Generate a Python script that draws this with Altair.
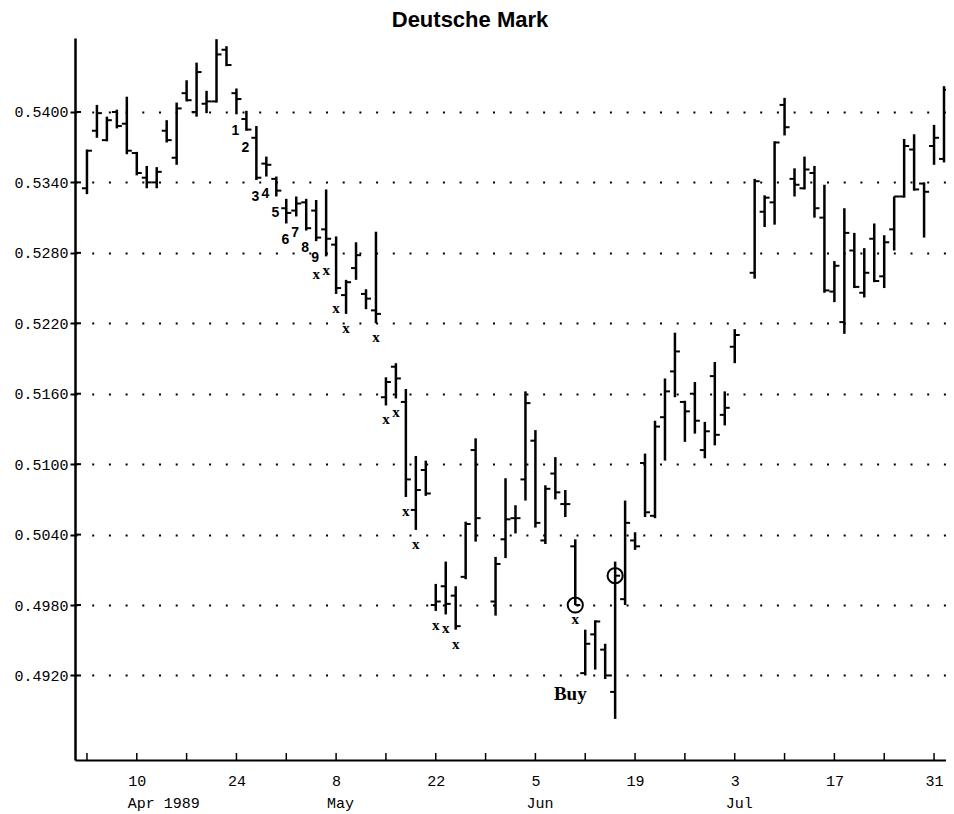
import altair as alt
import pandas as pd

# ---------------- data ----------------
START = pd.Timestamp("1989-04-03")
HOLIDAYS = ["1989-05-29", "1989-07-04"]
dates = [d for d in pd.bdate_range("1989-04-03", "1989-08-01")
         if d.strftime("%Y-%m-%d") not in HOLIDAYS]

highs = [0.5368, 0.5406, 0.5396, 0.5402, 0.5413, 0.5366, 0.5354, 0.5353, 0.5393, 0.5408,
         0.5427, 0.5442, 0.5418, 0.5462, 0.5456, 0.5420, 0.5401, 0.5388, 0.5362, 0.5345,
         0.5326, 0.5328, 0.5326, 0.5325, 0.5334, 0.5294, 0.5257, 0.5289, 0.5249, 0.5298,
         0.5174, 0.5186, 0.5164, 0.5107, 0.5103, 0.4998, 0.5017, 0.4996, 0.5051, 0.5122,
         0.5021, 0.5088, 0.5065, 0.5162, 0.5129, 0.5082, 0.5106, 0.5078, 0.5036,
         0.4959, 0.4967, 0.4947, 0.5017, 0.5069, 0.5042, 0.5109, 0.5137, 0.5173, 0.5212,
         0.5154, 0.5170, 0.5136, 0.5187, 0.5162, 0.5215,
         0.5343, 0.5329, 0.5375, 0.5412, 0.5352, 0.5362, 0.5354, 0.5338, 0.5273, 0.5318,
         0.5297, 0.5284, 0.5305, 0.5295, 0.5328, 0.5377, 0.5381, 0.5340, 0.5389, 0.5422]

lows = [0.5330, 0.5378, 0.5375, 0.5386, 0.5364, 0.5346, 0.5335, 0.5335, 0.5374, 0.5355,
        0.5409, 0.5396, 0.5399, 0.5408, 0.5439, 0.5398, 0.5384, 0.5342, 0.5345, 0.5328,
        0.5305, 0.5311, 0.5299, 0.5290, 0.5277, 0.5245, 0.5228, 0.5257, 0.5232, 0.5220,
        0.5150, 0.5156, 0.5072, 0.5044, 0.5073, 0.4975, 0.4972, 0.4959, 0.5002, 0.5034,
        0.4971, 0.5020, 0.5041, 0.5069, 0.5046, 0.5032, 0.5070, 0.5055, 0.4980,
        0.4920, 0.4925, 0.4917, 0.4883, 0.4980, 0.5027, 0.5055, 0.5054, 0.5103, 0.5157,
        0.5119, 0.5126, 0.5105, 0.5116, 0.5133, 0.5186,
        0.5258, 0.5302, 0.5304, 0.5380, 0.5328, 0.5334, 0.5310, 0.5246, 0.5238, 0.5211,
        0.5250, 0.5242, 0.5255, 0.5250, 0.5282, 0.5327, 0.5333, 0.5293, 0.5355, 0.5357]

opens = [0.5335, 0.5384, 0.5376, 0.5400, 0.5390, 0.5365, 0.5344, 0.5340, 0.5384, 0.5361,
         0.5416, 0.5400, 0.5407, 0.5409, 0.5453, 0.5416, 0.5394, 0.5378, 0.5356, 0.5343,
         0.5318, 0.5316, 0.5323, 0.5316, 0.5300, 0.5287, 0.5244, 0.5267, 0.5245, 0.5231,
         0.5157, 0.5183, 0.5153, 0.5061, 0.5095, 0.4980, 0.4996, 0.4988, 0.5004, 0.5112,
         0.4983, 0.5036, 0.5054, 0.5087, 0.5120, 0.5035, 0.5092, 0.5066, 0.5030,
         0.4922, 0.4955, 0.4942, 0.4906, 0.4985, 0.5035, 0.5101, 0.5056, 0.5140, 0.5179,
         0.5153, 0.5160, 0.5112, 0.5175, 0.5142, 0.5200,
         0.5263, 0.5315, 0.5323, 0.5406, 0.5343, 0.5335, 0.5348, 0.5310, 0.5247, 0.5221,
         0.5282, 0.5246, 0.5292, 0.5260, 0.5300, 0.5328, 0.5368, 0.5339, 0.5371, 0.5360]

closes = [0.5367, 0.5399, 0.5393, 0.5388, 0.5367, 0.5348, 0.5340, 0.5349, 0.5376, 0.5403,
          0.5410, 0.5434, 0.5409, 0.5449, 0.5440, 0.5411, 0.5385, 0.5344, 0.5355, 0.5333,
          0.5314, 0.5322, 0.5301, 0.5293, 0.5292, 0.5250, 0.5255, 0.5278, 0.5241, 0.5228,
          0.5170, 0.5173, 0.5087, 0.5078, 0.5075, 0.4983, 0.4981, 0.4962, 0.5049, 0.5054,
          0.5015, 0.5053, 0.5054, 0.5152, 0.5050, 0.5079, 0.5076, 0.5066, 0.4980,
          0.4947, 0.4966, 0.4920, 0.5005, 0.5050, 0.5030, 0.5059, 0.5132, 0.5162, 0.5196,
          0.5145, 0.5137, 0.5128, 0.5125, 0.5148, 0.5210,
          0.5341, 0.5327, 0.5374, 0.5387, 0.5338, 0.5351, 0.5318, 0.5248, 0.5269, 0.5297,
          0.5251, 0.5263, 0.5256, 0.5289, 0.5328, 0.5371, 0.5334, 0.5332, 0.5378, 0.5419]

setup_labels = ["1", "2", "3", "4", "5", "6", "7", "8", "9"]
setup_dates = ["1989-04-24", "1989-04-25", "1989-04-26", "1989-04-27", "1989-04-28",
               "1989-05-01", "1989-05-02", "1989-05-03", "1989-05-04"]
countdown_dates = ["1989-05-04", "1989-05-05", "1989-05-08", "1989-05-09", "1989-05-12",
                   "1989-05-15", "1989-05-16", "1989-05-17", "1989-05-18", "1989-05-22",
                   "1989-05-23", "1989-05-24", "1989-06-09"]
circle_dates = ["1989-06-09", "1989-06-15"]
buy_note = {"label": "Buy", "date": "1989-06-09", "price": 0.4904}
chart_title = "Deutsche Mark"

day_label_dates = ["1989-04-10", "1989-04-24", "1989-05-08", "1989-05-22", "1989-06-05",
                   "1989-06-19", "1989-07-03", "1989-07-17", "1989-07-31"]
day_labels = ["10", "24", "8", "22", "5", "19", "3", "17", "31"]
month_labels = ["Apr 1989", "May", "Jun", "Jul"]
month_dates = ["1989-04-10", "1989-05-08", "1989-06-05", "1989-07-03"]
y_ticks = [0.4920, 0.4980, 0.5040, 0.5100, 0.5160, 0.5220, 0.5280, 0.5340, 0.5400]


def slot_of(ts):
    days = (pd.Timestamp(ts) - START).days
    return (days // 7) * 5 + days % 7


df = pd.DataFrame({"date": [d.strftime("%Y-%m-%d") for d in dates],
                   "open": opens, "high": highs, "low": lows, "close": closes})
df["slot"] = [slot_of(d) for d in df["date"]]

setup_df = pd.DataFrame({"date": setup_dates, "label": setup_labels}).merge(
    df[["date", "slot", "low"]], on="date")
count_df = pd.DataFrame({"date": countdown_dates, "label": "x"}).merge(
    df[["date", "slot", "low"]], on="date")
count_df["stacked"] = count_df["date"].isin(setup_dates)
circle_df = pd.DataFrame({"date": circle_dates}).merge(df[["date", "slot", "close"]], on="date")
buy_df = pd.DataFrame([buy_note])
buy_df["slot"] = [slot_of(d) for d in buy_df["date"]]
week_df = pd.DataFrame({"slot": [slot_of(d) for d in pd.date_range("1989-04-03", "1989-07-31", freq="W-MON")]})
month_df = pd.DataFrame({"label": month_labels, "slot": [slot_of(d) for d in month_dates]})
title_df = pd.DataFrame({"label": [chart_title]})
label_slots = [slot_of(d) for d in day_label_dates]
label_expr = " : ".join(f"datum.value == {s} ? '{l}'" for s, l in zip(label_slots, day_labels)) + " : ''"

# ---------------- encodings ----------------
MONO = "Liberation Mono"
X_SCALE = alt.Scale(domain=[-1.2, 86.2], nice=False, zero=False)
Y_SCALE = alt.Scale(domain=[0.4848, 0.5463], nice=False, zero=False)
x_axis = alt.Axis(values=label_slots, labelExpr=label_expr, title=None, grid=False,
                  ticks=False, domain=True, domainColor="black", domainWidth=2,
                  labelFont=MONO, labelFontSize=15, labelColor="black",
                  labelPadding=13, labelAngle=0)
y_axis = alt.Axis(values=y_ticks, format=".4f", title=None, grid=True,
                  gridColor="black", gridDash=[2, 14.7], gridWidth=2, gridOpacity=1,
                  ticks=True, tickSize=5, tickWidth=2, tickColor="black",
                  domainColor="black", domainWidth=2.5,
                  labelFont=MONO, labelFontSize=15, labelColor="black", labelPadding=2)


def X():
    return alt.X("slot:Q", scale=X_SCALE, axis=x_axis)


def Y(field):
    return alt.Y(f"{field}:Q", scale=Y_SCALE, axis=y_axis)


bars = alt.Chart(df).mark_rule(color="black", strokeWidth=2.5).encode(
    x=X(), y=Y("low"), y2="high")
open_ticks = alt.Chart(df).mark_rule(color="black", strokeWidth=2, xOffset=-5).encode(
    x=X(), x2="slot", y=Y("open"))
close_ticks = alt.Chart(df).mark_rule(color="black", strokeWidth=2, x2Offset=5).encode(
    x=X(), x2="slot", y=Y("close"))
week_ticks = alt.Chart(week_df).mark_rule(color="black", strokeWidth=1.5).encode(
    x=X(), y=alt.value(722), y2=alt.value(715))
ytick_inner = alt.Chart(pd.DataFrame({"v": y_ticks})).mark_rule(
    color="black", strokeWidth=2).encode(
    x=alt.value(0), x2=alt.value(6), y=Y("v"))
setup_text = alt.Chart(setup_df).mark_text(
    font="Liberation Sans", fontWeight="bold", fontSize=14, dy=17, dx=-1,
    baseline="middle", align="center", color="black").encode(
    x=X(), y=Y("low"), text="label:N")
count_text = alt.Chart(count_df).transform_filter("!datum.stacked").mark_text(
    font="Liberation Serif", fontWeight="bold", fontSize=15, dy=14,
    baseline="middle", align="center", color="black").encode(
    x=X(), y=Y("low"), text="label:N")
count_text2 = alt.Chart(count_df).transform_filter("datum.stacked").mark_text(
    font="Liberation Serif", fontWeight="bold", fontSize=15, dy=33,
    baseline="middle", align="center", color="black").encode(
    x=X(), y=Y("low"), text="label:N")
circles = alt.Chart(circle_df).mark_point(
    shape="circle", filled=False, size=230, strokeWidth=2, color="black", opacity=1).encode(
    x=X(), y=Y("close"))
buy_text = alt.Chart(buy_df).mark_text(
    font="Liberation Serif", fontWeight="bold", fontSize=19, dx=-5,
    baseline="middle", align="center", color="black").encode(
    x=X(), y=Y("price"), text="label:N")
month_text = alt.Chart(month_df).mark_text(
    font=MONO, fontSize=15, align="left", dx=-9, baseline="middle", color="black").encode(
    x=X(), y=alt.value(765), text="label:N")
title_text = alt.Chart(title_df).mark_text(
    font="Liberation Sans", fontWeight="bold", fontSize=22, align="center",
    baseline="alphabetic", color="black").encode(
    x=alt.value(395), y=alt.value(-11), text="label:N")

chart = alt.layer(
    bars, open_ticks, close_ticks, week_ticks, ytick_inner, setup_text, count_text,
    count_text2, circles, buy_text, month_text, title_text
).properties(
    width=871, height=722,
    padding={"left": 67, "top": 30, "right": 0, "bottom": 54},
    autosize="none",
    background="white",
).configure_view(stroke=None)

chart.save("out.html", embed_options={"renderer": "svg", "actions": False})
